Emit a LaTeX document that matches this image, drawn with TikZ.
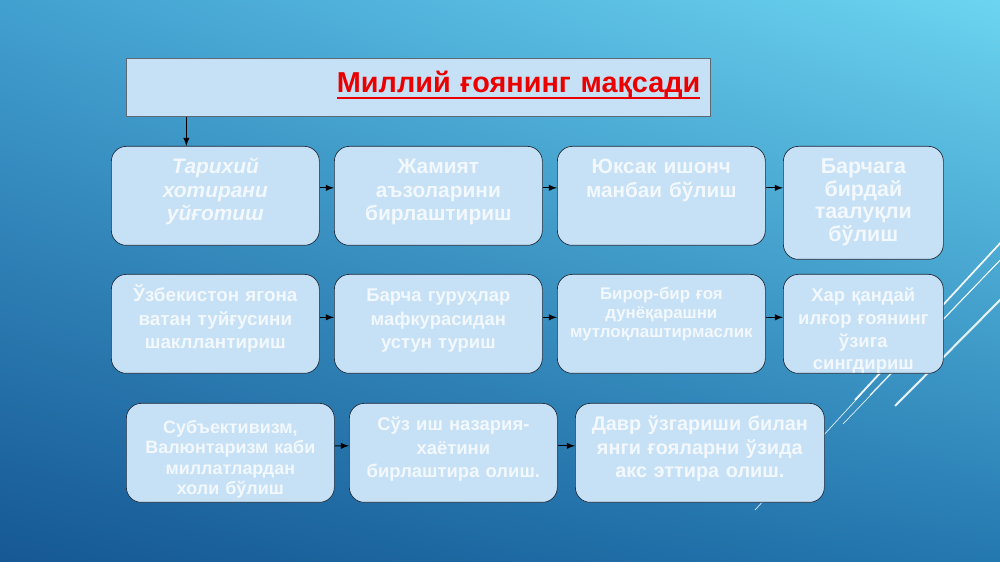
\documentclass[tikz,border=0pt]{standalone}
\usepackage{fontspec}
\setmainfont{Liberation Sans}
\usetikzlibrary{arrows,shadings}
\newsavebox{\ttlbox}
\newcommand{\ttlul}[1]{\sbox{\ttlbox}{#1}\rlap{\vrule height -2.4pt depth 4pt width\wd\ttlbox}\usebox{\ttlbox}}
\definecolor{bgul}{RGB}{66,160,208}
\definecolor{bgur}{RGB}{108,212,240}
\definecolor{bgll}{RGB}{22,88,148}
\definecolor{bglr}{RGB}{36,120,176}
\definecolor{boxfill}{RGB}{198,225,245}
\definecolor{boxline}{RGB}{35,45,60}
\definecolor{boxtext}{RGB}{242,248,253}
\definecolor{ttlline}{RGB}{95,105,115}
\definecolor{ttlred}{RGB}{235,0,0}
\tikzset{bx/.append style={draw=boxline, fill=boxfill, rounded corners=0.3cm, inner sep=0pt, anchor=north west,
    align=center, text=boxtext, font=\bfseries\fontsize{11}{13.7}\selectfont,
    text width=4.16cm, text height=0.54cm, text depth=1.44cm}}
\tikzset{nx/.append style={text width=3.2cm}}
\tikzset{fs/.style={font=\bfseries\fontsize{#1}{13.5}\selectfont}}
\tikzset{ttl/.append style={draw=ttlline, fill=boxfill, inner xsep=0.2cm, inner ysep=0pt, anchor=north west,
    text width=11.28cm, align=right, text height=0.68cm, text depth=0.48cm, text=ttlred,
    font=\bfseries\fontsize{16.4}{19}\selectfont}}
\tikzset{arr/.style={-latex, black, line width=0.6pt}}
\tikzset{deco/.style={white, opacity=0.85}}

\begin{document}
\begin{tikzpicture}
                \useasboundingbox (0,0) rectangle (20,-11.24);
                \shade[upper left=bgul, upper right=bgur, lower left=bgll, lower right=bglr] (0,0) rectangle (20,-11.24);
                % white strokes of the slide theme
                \begin{scope}
                \clip (0,0) rectangle (20,-11.24);
                \draw[deco, line width=0.4pt] (20.2,-4.64) -- (15.1,-10.2);
                \draw[deco, line width=0.4pt] (20.2,-5.0) -- (16.86,-8.48);
                \draw[deco, line width=1pt] (20.1,-4.76) -- (17.1,-8.0);
                \draw[deco, line width=0.5pt] (20.1,-5.1) -- (17.4,-7.9);
                \draw[deco, line width=1.2pt] (20.2,-5.8) -- (17.9,-8.12);
                \end{scope}
                \node[ttl] (ttl) at (2.52,-1.16) {\ttlul{Миллий ғоянинг мақсади}};
                \node[bx,fs=11.9] (b1) at (2.22,-2.92) {\itshape Тарихий\\хотирани\\уйғотиш};
                \node[bx,fs=11.9] (b2) at (6.68,-2.92) {Жамият\\аъзоларини\\бирлаштириш};
                \node[bx,fs=11.8] (b3) at (11.14,-2.92) {Юксак ишонч\\манбаи бўлиш};
                \node[bx,nx,font=\bfseries\fontsize{12.2}{12.9}\selectfont,text depth=1.72cm] (b4) at (15.66,-2.92) {Барчага\\бирдай\\таалуқли\\бўлиш};
                \node[bx,fs=10.7] (b5) at (2.22,-5.48) {Ўзбекистон ягона\\ватан туйғусини\\шакллантириш};
                \node[bx,fs=10.5] (b6) at (6.68,-5.48) {Барча гуруҳлар\\мафкурасидан\\устун туриш};
                \node[bx,font=\bfseries\fontsize{9.6}{10.9}\selectfont,text height=0.5cm,text depth=1.48cm] (b7) at (11.14,-5.48) {Бирор-бир ғоя\\дунёқарашни\\мутлоқлаштирмаслик};
                \node[bx,nx,font=\bfseries\fontsize{10.5}{13}\selectfont] (b8) at (15.66,-5.48) {Хар қандай\\илғор ғоянинг\\ўзига\\сингдириш};
                \node[bx,font=\bfseries\fontsize{10.2}{11.6}\selectfont,text height=0.6cm,text depth=1.38cm] (b9) at (2.52,-8.06) {Субъективизм,\\Валюнтаризм каби\\миллатлардан\\холи бўлиш};
                \node[bx,fs=10.5] (b10) at (6.98,-8.06) {Сўз иш назария-\\хаётини\\бирлаштира олиш.};
                \node[bx,fs=11.3,text width=4.98cm] (b11) at (11.5,-8.06) {Давр ўзгариши билан\\янги ғояларни ўзида\\акс эттира олиш.};
                \draw[arr] ([xshift=-0.58cm]b1.north |- ttl.south) -- ([xshift=-0.58cm]b1.north);
                \draw[arr] ([yshift=1.6mm]b1.east) -- ([yshift=1.6mm]b2.west);
                \draw[arr] ([yshift=1.6mm]b2.east) -- ([yshift=1.6mm]b3.west);
                \draw[arr] ([yshift=1.6mm]b3.east) -- ([yshift=1.6mm]b3.east -| b4.west);
                \draw[arr] ([yshift=1.3mm]b5.east) -- ([yshift=1.3mm]b6.west);
                \draw[arr] ([yshift=1.3mm]b6.east) -- ([yshift=1.3mm]b7.west);
                \draw[arr] ([yshift=1.3mm]b7.east) -- ([yshift=1.3mm]b8.west);
                \draw[arr] ([yshift=1.4mm]b9.east) -- ([yshift=1.4mm]b10.west);
                \draw[arr] ([yshift=1.4mm]b10.east) -- ([yshift=1.4mm]b11.west);
            \end{tikzpicture}
\end{document}
